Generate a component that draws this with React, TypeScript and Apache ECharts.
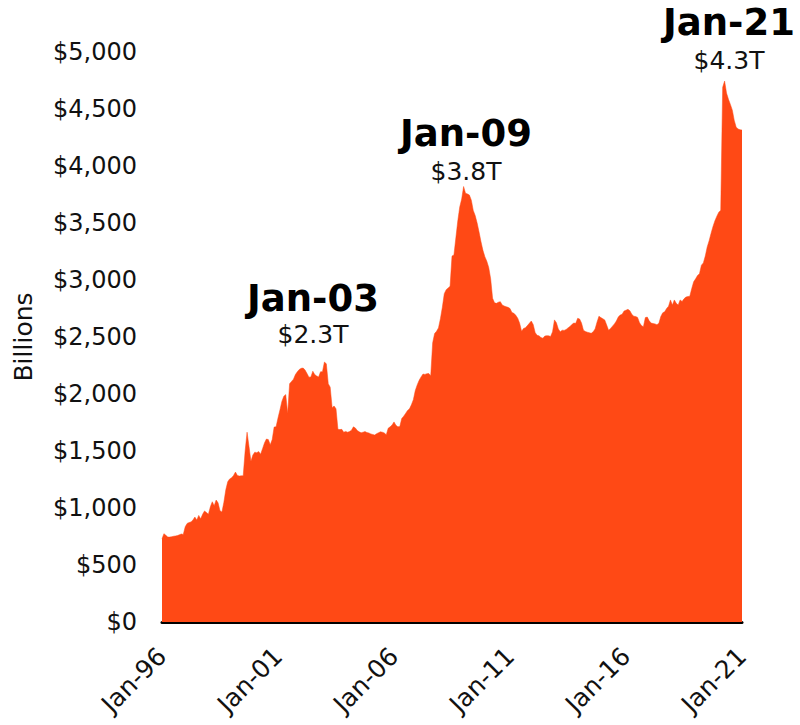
import React, { useEffect, useRef } from "react";
import * as echarts from "echarts";

// Monthly values, $ billions
const y1996 = [730, 775, 760, 745, 745, 748, 752, 755, 758, 765, 772, 768];
const y1997 = [835, 865, 872, 878, 895, 920, 895, 935, 905, 945, 974, 960];
const y1998 = [945, 1010, 1055, 1020, 1070, 1045, 975, 965, 1050, 1160, 1230, 1255];
const y1999 = [1265, 1285, 1315, 1285, 1280, 1282, 1282, 1500, 1665, 1540, 1410, 1465];
const y2000 = [1490, 1485, 1495, 1472, 1520, 1570, 1605, 1600, 1555, 1600, 1710, 1712];
const y2001 = [1790, 1860, 1935, 1980, 1995, 1830, 2090, 2110, 2130, 2170, 2195, 2215];
const y2002 = [2225, 2228, 2210, 2180, 2148, 2150, 2200, 2170, 2158, 2150, 2195, 2196];
const y2003 = [2280, 2265, 2090, 2060, 1880, 1895, 1870, 1690, 1688, 1690, 1665, 1672];
const y2004 = [1665, 1670, 1682, 1712, 1702, 1680, 1668, 1660, 1665, 1670, 1662, 1658];
const y2005 = [1650, 1645, 1640, 1652, 1660, 1668, 1665, 1658, 1642, 1700, 1712, 1728];
const y2006 = [1755, 1725, 1712, 1715, 1785, 1805, 1830, 1855, 1870, 1905, 1950, 2030];
const y2007 = [2080, 2120, 2150, 2175, 2172, 2178, 2180, 2160, 2450, 2530, 2550, 2580];
const y2008 = [2660, 2760, 2880, 2915, 2930, 2945, 3210, 3220, 3370, 3520, 3640, 3710];
const y2009 = [3820, 3760, 3755, 3745, 3700, 3610, 3565, 3500, 3420, 3335, 3260, 3205];
const y2010 = [3165, 3110, 3010, 2840, 2800, 2795, 2805, 2810, 2780, 2772, 2766, 2760];
const y2011 = [2750, 2715, 2708, 2690, 2665, 2620, 2550, 2575, 2582, 2600, 2620, 2640];
const y2012 = [2610, 2540, 2515, 2510, 2495, 2490, 2508, 2512, 2510, 2505, 2545, 2650];
const y2013 = [2625, 2570, 2545, 2560, 2558, 2566, 2580, 2592, 2610, 2622, 2620, 2664];
const y2014 = [2658, 2622, 2560, 2548, 2542, 2538, 2532, 2545, 2570, 2630, 2682, 2670];
const y2015 = [2660, 2650, 2605, 2560, 2575, 2595, 2615, 2640, 2675, 2693, 2700, 2728];
const y2016 = [2735, 2743, 2730, 2700, 2682, 2680, 2672, 2625, 2600, 2590, 2670, 2675];
const y2017 = [2642, 2622, 2618, 2615, 2608, 2620, 2680, 2712, 2722, 2750, 2770, 2825];
const y2018 = [2780, 2825, 2795, 2780, 2825, 2812, 2835, 2850, 2855, 2858, 2925, 2985];
const y2019 = [3010, 3040, 3055, 3130, 3150, 3210, 3290, 3345, 3410, 3470, 3520, 3560];
const y2020 = [3595, 3612, 4690, 4745, 4640, 4585, 4540, 4490, 4400, 4340, 4325, 4318];
const y2021 = [4315];

const yearlySeries = [
  y1996, y1997, y1998, y1999, y2000, y2001, y2002, y2003, y2004, y2005, y2006, y2007, y2008,
  y2009, y2010, y2011, y2012, y2013, y2014, y2015, y2016, y2017, y2018, y2019, y2020, y2021,
];
const START_YEAR = 1996;
const MONTH_NAMES = ["Jan", "Feb", "Mar", "Apr", "May", "Jun", "Jul", "Aug", "Sep", "Oct", "Nov", "Dec"];
const TICK_LABELS = ["Jan-96", "Jan-01", "Jan-06", "Jan-11", "Jan-16", "Jan-21"];

const ANNOTATIONS = [
  { title: "Jan-03", value: "$2.3T" },
  { title: "Jan-09", value: "$3.8T" },
  { title: "Jan-21", value: "$4.3T" },
];

const FONT = "DejaVu Sans";
const ORANGE = "#FF4915";

export default function App() {
  const ref = useRef<HTMLDivElement>(null);

  useEffect(() => {
    document.body.style.margin = "0";
    if (!ref.current) return;
    const chart = echarts.init(ref.current, null, { renderer: "svg" });

    const categories: string[] = [];
    const values: number[] = [];
    yearlySeries.forEach((arr, yi) => {
      arr.forEach((v, mi) => {
        const yy = String((START_YEAR + yi) % 100).padStart(2, "0");
        categories.push(`${MONTH_NAMES[mi]}-${yy}`);
        values.push(v);
      });
    });

    const annPos = [
      { x: 313, y1: 298, y2: 334 },
      { x: 466, y1: 133, y2: 171 },
      { x: 729, y1: 22, y2: 60 },
    ];
    const graphics: any[] = [];
    ANNOTATIONS.forEach((a, i) => {
      const p = annPos[i];
      graphics.push({
        type: "text",
        x: p.x,
        y: p.y1,
        style: {
          text: a.title,
          font: `bold 37px "${FONT}"`,
          fill: "#000",
          textAlign: "center",
          textVerticalAlign: "middle",
        },
      });
      graphics.push({
        type: "text",
        x: p.x,
        y: p.y2,
        style: {
          text: a.value,
          font: `25px "${FONT}"`,
          fill: "#111",
          textAlign: "center",
          textVerticalAlign: "middle",
        },
      });
    });

    chart.setOption({
      animation: false,
      grid: { left: 162, right: 58, top: 52, bottom: 103, containLabel: false },
      xAxis: {
        type: "category",
        data: categories,
        boundaryGap: false,
        axisLine: { show: true, lineStyle: { color: "#000", width: 3 } },
        axisTick: { show: false },
        axisLabel: {
          interval: (idx: number, val: string) => TICK_LABELS.includes(val),
          rotate: 45,
          margin: 30,
          fontFamily: FONT,
          fontSize: 25,
          color: "#111",
        },
        splitLine: { show: false },
      },
      yAxis: {
        type: "value",
        min: 0,
        max: 5000,
        interval: 500,
        name: "Billions",
        nameLocation: "middle",
        nameGap: 126,
        nameRotate: 90,
        nameTextStyle: { fontFamily: FONT, fontSize: 25, color: "#111" },
        axisLine: { show: false },
        axisTick: { show: false },
        splitLine: { show: false },
        axisLabel: {
          margin: 25,
          fontFamily: FONT,
          fontSize: 24,
          color: "#111",
          formatter: (v: number) => "$" + v.toLocaleString("en-US"),
        },
      },
      series: [
        {
          type: "line",
          data: values,
          symbol: "none",
          lineStyle: { width: 0.5, color: ORANGE },
          areaStyle: { color: ORANGE, opacity: 1 },
          z: 1,
        },
      ],
      graphic: graphics,
    });

    return () => chart.dispose();
  }, []);

  return <div ref={ref} style={{ width: 800, height: 725 }} />;
}
